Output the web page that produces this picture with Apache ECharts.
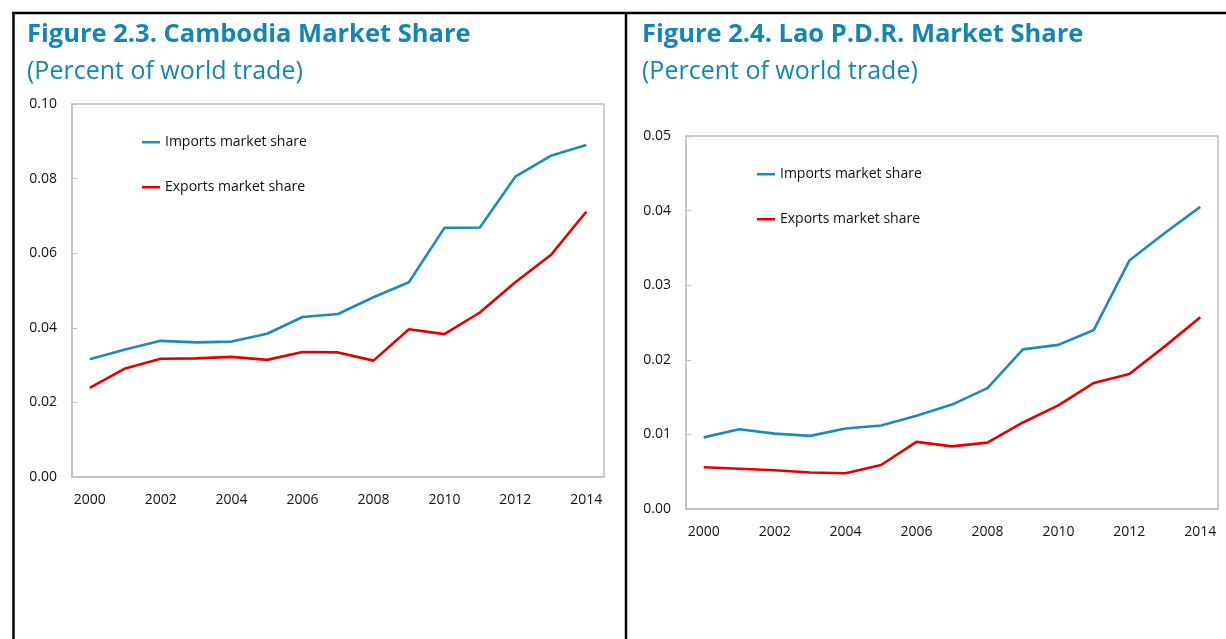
<!DOCTYPE html>
<html>
<head>
<meta charset="utf-8">
<title>Cambodia and Lao P.D.R. Market Share</title>
<script src="https://cdn.jsdelivr.net/npm/echarts@6/dist/echarts.min.js"></script>
<style>
  html, body { margin: 0; padding: 0; background: #fff; }
  #chart { width: 1226px; height: 639px; }
</style>
</head>
<body>
<div id="chart"></div>
<script>
// Years on the horizontal axis (shared by both panels)
const years = ['2000','2001','2002','2003','2004','2005','2006','2007','2008','2009','2010','2011','2012','2013','2014'];

// Cambodia, percent of world trade
const khImports = [0.0316, 0.0342, 0.0365, 0.0361, 0.0363, 0.0384, 0.0429, 0.0437, 0.0482, 0.0522, 0.0668, 0.0669, 0.0805, 0.0861, 0.0890];
const khExports = [0.0239, 0.0291, 0.0317, 0.0318, 0.0322, 0.0314, 0.0335, 0.0334, 0.0312, 0.0396, 0.0383, 0.0441, 0.0522, 0.0595, 0.0711];

// Lao P.D.R., percent of world trade
const laImports = [0.0096, 0.0107, 0.0101, 0.0098, 0.0108, 0.0112, 0.0125, 0.0140, 0.0162, 0.0214, 0.0220, 0.0240, 0.0333, 0.0370, 0.0405];
const laExports = [0.0056, 0.0054, 0.0052, 0.0049, 0.0048, 0.0059, 0.0090, 0.0084, 0.0089, 0.0116, 0.0139, 0.0169, 0.0181, 0.0218, 0.0257];

const seriesNames = ['Imports market share', 'Exports market share'];
const titles = ['Figure 2.3. Cambodia Market Share', 'Figure 2.4. Lao P.D.R. Market Share'];
const subtitle = '(Percent of world trade)';

const FONT = 'Open Sans';
const BLUE = '#1a8bbb';
const RED = '#e50000';
const TITLE_BLUE = '#1386b6';
const AXIS_GREY = '#bfbfbf';

// Legend key: a plain horizontal stroke, centred in an 18x14 box
const LINE_ICON = 'path://M0,0L0.01,0L0,0.01Z M0,6L18,6L18,8.4L0,8.4Z M0,14L0.01,14L0,13.99Z';

function xAxis(gridIndex) {
  return {
    type: 'category', gridIndex, data: years, boundaryGap: true,
    axisLine: { lineStyle: { color: AXIS_GREY, width: 1.5 } },
    axisTick: { inside: true, length: 5, interval: 0, lineStyle: { color: AXIS_GREY } },
    axisLabel: { interval: 1, margin: 16, color: '#111', fontFamily: FONT, fontSize: 14 }
  };
}
function yAxis(gridIndex, max, interval) {
  return {
    type: 'value', gridIndex, min: 0, max, interval,
    splitLine: { show: false },
    axisLine: { show: true, lineStyle: { color: AXIS_GREY, width: 1.5 } },
    axisTick: { show: true, inside: true, length: 5, lineStyle: { color: AXIS_GREY } },
    axisLabel: { margin: 15, color: '#111', fontFamily: FONT, fontSize: 14,
                 formatter: v => v.toFixed(2) }
  };
}
function line(name, data, color, idx) {
  return {
    name, type: 'line', data, xAxisIndex: idx, yAxisIndex: idx,
    symbol: 'none', lineStyle: { color, width: 2.6 }, itemStyle: { color },
    emphasis: { disabled: true }, animation: false
  };
}
function legend(left, top) {
  return {
    data: seriesNames.map(name => ({ name, icon: LINE_ICON })),
    orient: 'vertical', left, top, itemGap: 31,
    itemWidth: 18, itemHeight: 14, selectedMode: false,
    textStyle: { fontFamily: FONT, fontSize: 14, color: '#111' }
  };
}
function titleBlock(text, left, top, size, weight) {
  return { text, left, top, textStyle: { fontFamily: FONT, fontWeight: weight, fontSize: size, color: TITLE_BLUE } };
}

const chart = echarts.init(document.getElementById('chart'), null, { renderer: 'canvas' });
chart.setOption({
  animation: false,
  title: [
    titleBlock(titles[0], 22, 17, 25.5, 'bold'),
    titleBlock(subtitle, 22, 54, 25, 'normal'),
    titleBlock(titles[1], 637, 17, 25.5, 'bold'),
    titleBlock(subtitle, 637, 54, 25, 'normal')
  ],
  legend: [legend(137, 130), legend(752, 162)],
  grid: [
    { left: 72, top: 104, width: 532, height: 373, show: true, borderColor: AXIS_GREY, borderWidth: 1.5, containLabel: false },
    { left: 686, top: 136, width: 532, height: 373, show: true, borderColor: AXIS_GREY, borderWidth: 1.5, containLabel: false }
  ],
  xAxis: [xAxis(0), xAxis(1)],
  yAxis: [yAxis(0, 0.10, 0.02), yAxis(1, 0.05, 0.01)],
  series: [
    line(seriesNames[0], khImports, BLUE, 0),
    line(seriesNames[1], khExports, RED, 0),
    line(seriesNames[0], laImports, BLUE, 1),
    line(seriesNames[1], laExports, RED, 1)
  ],
  // Panel frame: top rule, left rule and the divider between the two figures
  graphic: [
    { type: 'line', shape: { x1: 12, y1: 13, x2: 1226, y2: 13 }, style: { stroke: '#000', lineWidth: 2.5 } },
    { type: 'line', shape: { x1: 13.5, y1: 13, x2: 13.5, y2: 639 }, style: { stroke: '#000', lineWidth: 2.5 } },
    { type: 'line', shape: { x1: 626, y1: 13, x2: 626, y2: 639 }, style: { stroke: '#000', lineWidth: 2.5 } }
  ]
});
</script>
</body>
</html>
